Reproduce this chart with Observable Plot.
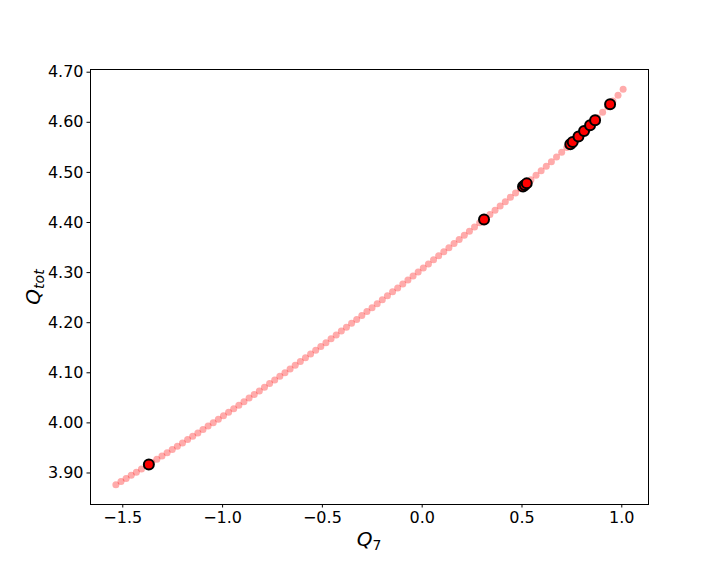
<!DOCTYPE html>
<html><head><meta charset="utf-8">
<script src="https://cdn.jsdelivr.net/npm/d3@7"></script>
<script src="https://cdn.jsdelivr.net/npm/@observablehq/plot@0.6"></script>
<style>body{margin:0;background:#fff;}</style>
</head><body><div id="chart"></div>
<script>
const q7 = [-1.5346,-1.5089,-1.4833,-1.4576,-1.4319,-1.4062,-1.3806,-1.3549,-1.3292,-1.3036,-1.2779,-1.2522,-1.2266,-1.2009,-1.1752,-1.1496,-1.1239,-1.0982,-1.0725,-1.0469,-1.0212,-0.9955,-0.9699,-0.9442,-0.9185,-0.8929,-0.8672,-0.8415,-0.8158,-0.7902,-0.7645,-0.7388,-0.7132,-0.6875,-0.6618,-0.6362,-0.6105,-0.5848,-0.5591,-0.5335,-0.5078,-0.4821,-0.4565,-0.4308,-0.4051,-0.3795,-0.3538,-0.3281,-0.3024,-0.2768,-0.2511,-0.2254,-0.1998,-0.1741,-0.1484,-0.1228,-0.0971,-0.0714,-0.0457,-0.0201,0.0056,0.0313,0.0569,0.0826,0.1083,0.1339,0.1596,0.1853,0.2110,0.2366,0.2623,0.2880,0.3136,0.3393,0.3650,0.3906,0.4163,0.4420,0.4677,0.4933,0.5190,0.5447,0.5703,0.5960,0.6217,0.6473,0.6730,0.6987,0.7244,0.7500,0.7757,0.8014,0.8270,0.8527,0.8784,0.9040,0.9297,0.9554,0.9811,1.0067];
const qtot = [3.8766,3.8828,3.8891,3.8954,3.9017,3.9081,3.9144,3.9208,3.9272,3.9337,3.9402,3.9467,3.9533,3.9599,3.9666,3.9733,3.9800,3.9868,3.9936,4.0004,4.0073,4.0143,4.0212,4.0282,4.0353,4.0423,4.0495,4.0567,4.0639,4.0711,4.0784,4.0856,4.0929,4.1003,4.1077,4.1151,4.1225,4.1300,4.1375,4.1450,4.1526,4.1602,4.1679,4.1755,4.1833,4.1910,4.1988,4.2066,4.2144,4.2222,4.2300,4.2379,4.2458,4.2537,4.2616,4.2695,4.2774,4.2854,4.2934,4.3013,4.3093,4.3174,4.3254,4.3335,4.3416,4.3498,4.3579,4.3662,4.3744,4.3826,4.3909,4.3993,4.4076,4.4160,4.4245,4.4330,4.4416,4.4502,4.4589,4.4676,4.4764,4.4853,4.4942,4.5033,4.5124,4.5215,4.5308,4.5401,4.5496,4.5591,4.5689,4.5787,4.5888,4.5989,4.6093,4.6200,4.6310,4.6423,4.6539,4.6658];
const selQ7 = [-1.3694,0.3098,0.5053,0.5140,0.5238,0.7420,0.7540,0.7830,0.8110,0.8411,0.8662,0.9414];
const selQtot = [3.9170,4.4062,4.4717,4.4747,4.4781,4.5563,4.5607,4.5717,4.5825,4.5943,4.6043,4.6361];
const xTicks = [-1.5,-1.0,-0.5,0.0,0.5,1.0];
const yTicks = [3.90,4.00,4.10,4.20,4.30,4.40,4.50,4.60,4.70];

const curve = q7.map((x,i)=>({x, y: qtot[i]}));
const sel = selQ7.map((x,i)=>({x, y: selQtot[i]}));

const plot = Plot.plot({
  width:720, height:576,
  marginLeft:90, marginRight:72, marginTop:69, marginBottom:72,
  style:{fontFamily:"DejaVu Sans", fontSize:"16px", color:"#000", background:"#fff"},
  x:{domain:[-1.6617,1.1338], label:null},
  y:{domain:[3.8371,4.7054], label:null},
  marks:[
    Plot.frame({stroke:"#000", strokeWidth:1}),
    Plot.axisX({ticks:xTicks, tickFormat:d3.format(".1f"), tickSize:3.5, tickPadding:3.5, fontSize:16, label:null}),
    Plot.axisY({ticks:yTicks, tickFormat:d3.format(".2f"), tickSize:3.5, tickPadding:3.5, fontSize:16, label:null}),
    Plot.dot(curve, {x:"x", y:"y", r:3.5, fill:"red", fillOpacity:0.33}),
    Plot.dot(sel, {x:"x", y:"y", r:5, fill:"red", stroke:"black", strokeWidth:2})
  ]
});
document.getElementById("chart").appendChild(plot);

const svg = d3.select(plot);
const xl = svg.append("text").attr("x",369).attr("y",546).attr("text-anchor","middle")
  .attr("font-family","DejaVu Sans").attr("font-size",20).attr("fill","#000");
xl.append("tspan").attr("font-style","italic").text("Q");
xl.append("tspan").attr("font-size",14).attr("dy",4).text("7");

const yl = svg.append("text").attr("transform","translate(40,287) rotate(-90)").attr("text-anchor","middle")
  .attr("font-family","DejaVu Sans").attr("font-size",20).attr("fill","#000");
yl.append("tspan").attr("font-style","italic").text("Q");
yl.append("tspan").attr("font-style","italic").attr("font-size",14).attr("dy",4).text("tot");
</script>
</body></html>
